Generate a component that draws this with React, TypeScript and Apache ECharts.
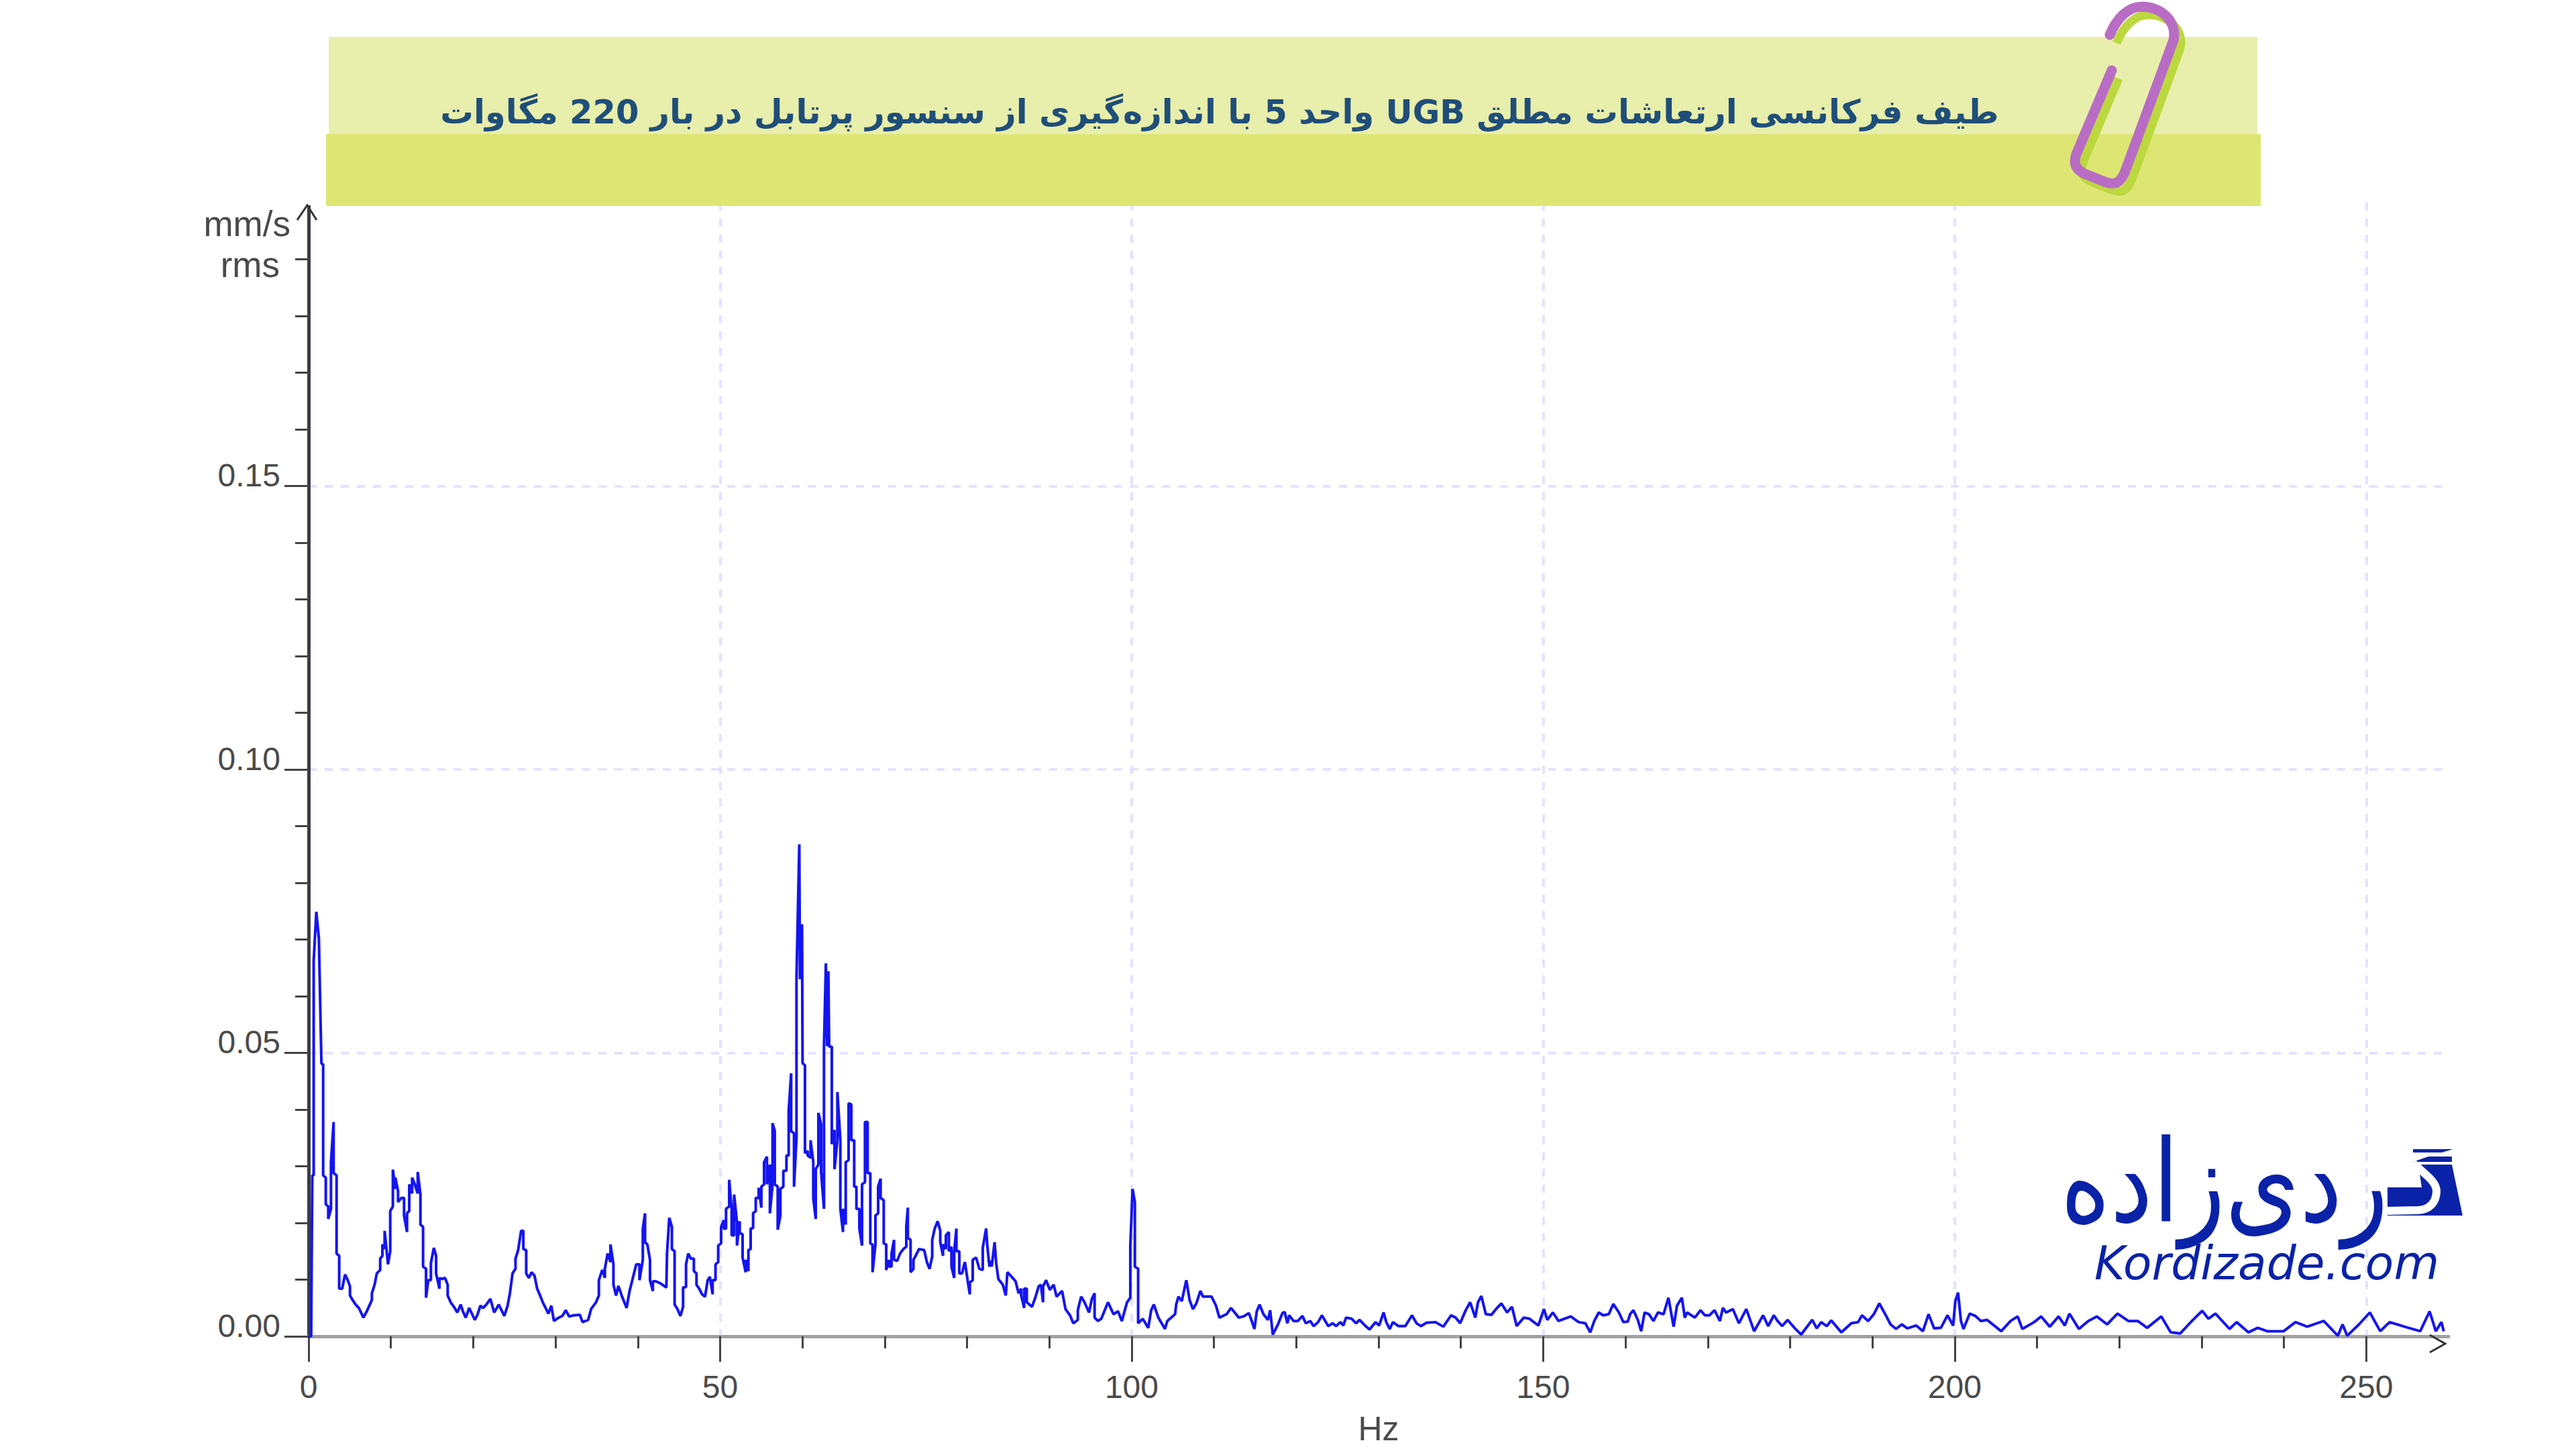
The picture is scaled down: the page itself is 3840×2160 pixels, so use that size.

import React, { useEffect, useRef } from "react";
import * as echarts from "echarts";

const title = "\u202Bطیف فرکانسی ارتعاشات مطلق UGB واحد 5 با اندازه‌گیری از سنسور پرتابل در بار 220 مگاوات\u202C";
const xTicks = [0, 50, 100, 150, 200, 250];
const yTicks = [0, 0.05, 0.1, 0.15];

// [Hz, mm/s rms]
const band0to40 = [
[0,0],[0.31,0],[0.45,.0284],[0.62,.0284],[0.62,.0662],[0.94,.0749],[1.25,.0702],[1.56,.0481],[1.77,.048],[1.77,.0284],
[2.09,.028],[2.09,.0233],[2.39,.0229],[2.39,.0207],[2.72,.0225],[2.72,.0307],[3.04,.0378],[3.04,.0288],[3.4,.0284],[3.4,.0146],
[3.72,.0142],[3.72,.0084],[4.08,.0084],[4.43,.0109],[4.76,.0099],[5.03,.0088],[5.03,.0072],[5.35,.0064],[5.71,.0056],[6.11,.005],
[6.66,.0033],[7.07,.0044],[7.69,.0064],[7.69,.0076],[8.02,.0091],[8.29,.0111],[8.7,.0117],[8.7,.0137],[8.97,.0142],[8.97,.0162],
[9.24,.0154],[9.24,.0186],[9.65,.0127],[9.92,.015],[9.92,.0221],[10.24,.0229],[10.24,.0294],[10.54,.026],[10.54,.028],[10.87,.0256],
[10.87,.0237],[11.28,.0244],[11.6,.0244],[11.6,.0213],[11.96,.0184],[11.96,.0217],[12.23,.0221],[12.23,.0268],[12.58,.0252],[12.58,.028],
[12.91,.0268],[13.26,.0252],[13.26,.029],[13.59,.025],[13.59,.0197],[13.91,.0193],[13.91,.0123],[14.27,.0119],[14.27,.0068],[14.54,.0099],
[14.86,.0099],[14.86,.0129],[15.22,.0156],[15.49,.0142],[15.49,.0111],[15.9,.0084],[15.9,.0103],[16.22,.0101],[16.58,.0103],[16.9,.0091],
[16.9,.0072],[17.26,.006],[17.66,.0052],[18.07,.0042],[18.48,.0056],[18.75,.0044],[19.1,.0033],[19.51,.005],[19.84,.004],[20.19,.0029],
[20.52,.0038],[20.87,.0054],[21.2,.005],[21.6,.0056],[22.09,.0066],[22.55,.0042],[23.1,.0056],[23.78,.0036],[24.18,.0054],[24.46,.0076],
[24.78,.0111],[25.14,.0119],[25.14,.0137],[25.46,.0152],[25.82,.0186],[26.09,.0186],[26.09,.0154],[26.44,.0152],[26.44,.0111],[26.77,.0103],
[27.09,.0113],[27.45,.0107],[27.77,.0084],[28.13,.0072],[28.45,.006],[28.8,.005],[29.13,.004],[29.48,.0054],[29.81,.0027],[30.16,.0031],
[30.84,.0036],[31.25,.0046],[31.66,.0035],[32.2,.0037],[32.96,.0038],[33.29,.0025],[33.97,.0029],[34.32,.0048],[34.92,.006],[35.27,.0072],
[35.27,.0099],[35.68,.0117],[36,.0103],[36,.0119],[36.33,.0146],[36.68,.0131],[36.68,.0162],[37.04,.0127],[37.04,.0091],[37.36,.0072],
[37.64,.0089],[38.04,.0072],[38.64,.005],[39,.008],[39.4,.0103],[39.81,.0127],[40.2,.0127],[40.2,.0099],
];

const band40to81 = [
[40.61,.0135],[40.61,.019],[40.88,.0217],[40.88,.0166],[41.16,.0162],[41.48,.0135],[41.48,.0099],[41.83,.008],[41.83,.0097],[42.19,.0097],
[42.79,.0093],[43.47,.0086],[43.55,.0146],[43.82,.0209],[44.14,.0193],[44.14,.0154],[44.47,.015],[44.47,.0056],[44.82,.0048],[45.18,.0036],
[45.5,.0052],[45.5,.0086],[45.86,.0087],[45.86,.0127],[46.13,.0146],[46.45,.0137],[46.81,.0137],[46.81,.0115],[47.13,.0111],[47.13,.0091],
[47.46,.0084],[47.81,.0074],[48.17,.007],[48.49,.0099],[48.76,.0105],[49.09,.0074],[49.09,.0099],[49.44,.0099],[49.44,.0127],[49.77,.0131],
[49.77,.016],[50.12,.0164],[50.12,.0193],[50.45,.0205],[50.45,.019],[50.72,.019],[50.72,.0225],[51.1,.0229],[51.1,.0276],[51.4,.0225],
[51.4,.0178],[51.7,.0178],[51.7,.025],[52.05,.0201],[52.05,.016],[52.38,.0203],[52.38,.0182],[52.73,.018],[52.73,.0139],[53.11,.0113],
[53.11,.0135],[53.44,.0115],[53.44,.0152],[53.71,.0154],[53.71,.019],[54.01,.0191],[54.01,.0217],[54.33,.0221],[54.33,.0244],[54.69,.0244],
[54.69,.0262],[55.01,.0227],[55.01,.0264],[55.34,.0268],[55.34,.0307],[55.69,.0317],[55.69,.0268],[56.05,.0303],[56.05,.0217],[56.37,.0268],
[56.37,.0376],[56.64,.0362],[56.64,.0268],[57,.0264],[57,.0188],[57.32,.0213],[57.32,.026],[57.68,.0264],[57.68,.0292],[58.06,.0292],
[58.06,.0319],[58.33,.0319],[58.33,.0398],[58.63,.0464],[58.63,.0362],[58.98,.0358],[58.98,.0264],[59.28,.035],[59.28,.0633],[59.62,.0868],
[59.7,.063],[59.95,.0727],[60.02,.0482],[60.31,.0478],[60.31,.0323],[60.64,.0327],[60.64,.0319],[60.99,.0315],[60.99,.0346],[61.32,.0307],
[61.32,.0244],[61.62,.0207],[61.62,.0295],[61.94,.0303],[61.94,.0394],[62.27,.0374],[62.27,.029],[62.62,.0225],[62.62,.0511],[62.85,.0658],
[63,.0512],[63.15,.0644],[63.25,.0511],[63.57,.0511],[63.57,.0339],[63.9,.0364],[63.9,.0295],[64.25,.0346],[64.25,.0431],[64.61,.0346],
[64.61,.0225],[64.93,.0184],[64.93,.0225],[65.26,.0197],[65.26,.0307],[65.61,.0311],[65.61,.0411],[65.94,.0409],[65.94,.0346],[66.29,.0346],
[66.29,.0264],[66.56,.0264],[66.56,.0225],[66.92,.0225],[66.92,.019],[67.24,.016],[67.24,.0268],[67.6,.0272],[67.6,.0378],[67.92,.0378],
[67.92,.0288],[68.25,.0288],[68.25,.0164],[68.52,.0162],[68.52,.0113],[68.87,.0162],[68.87,.0213],[69.2,.0217],[69.2,.0264],[69.5,.0278],
[69.5,.0244],[69.88,.024],[69.88,.0164],[70.18,.0162],[70.18,.0117],[70.5,.0135],[70.5,.0123],[70.83,.0123],[70.83,.0146],[71.13,.017],
[71.13,.0135],[71.51,.0133],[71.86,.0146],[72.27,.0154],[72.62,.0158],[72.62,.0193],[72.81,.0227],[72.81,.0174],[73.14,.017],[73.14,.0113],
[73.49,.0119],[73.49,.0135],[73.76,.0142],[74.17,.0154],[74.8,.0152],[75.12,.0131],[75.45,.0119],[75.77,.0141],[75.77,.017],[76.07,.019],
[76.43,.0203],[76.75,.0186],[76.75,.0166],[77.08,.0142],[77.08,.0162],[77.43,.0154],[77.43,.0178],[77.79,.0184],[77.79,.015],[78.11,.0158],
[78.11,.0123],[78.44,.0103],[78.44,.015],[78.71,.019],[78.71,.015],[79.06,.015],[79.06,.0111],[79.39,.0111],[79.74,.0131],[80.07,.0099],
[80.34,.0074],[80.34,.0095],[80.69,.0099],[80.69,.0135],[81.1,.0139],
];

const band81to120 = [
[81.5,.0119],[81.91,.0117],[81.91,.0156],[82.32,.019],[82.45,.0162],[82.72,.0123],[83,.0133],[83,.0123],[83.35,.0166],[83.54,.0129],
[83.81,.0101],[84.35,.0091],[84.71,.0072],[84.9,.0113],[85.3,.0107],[85.9,.0097],[86.26,.0076],[86.58,.0084],[86.58,.0072],[86.94,.005],
[86.94,.0084],[87.26,.0084],[87.26,.006],[87.89,.0052],[88.29,.0068],[88.7,.0088],[88.97,.0091],[89.24,.006],[89.24,.0088],[89.6,.0099],
[90.06,.0082],[90.52,.0091],[90.88,.007],[91.55,.008],[91.96,.0048],[92.51,.0037],[92.91,.0023],[93.46,.0029],[93.46,.0046],[93.86,.007],
[94.27,.006],[94.82,.0042],[95.17,.0066],[95.5,.0076],[95.5,.0033],[95.9,.0027],[96.31,.0031],[97.13,.006],[97.8,.0039],[98.35,.0044],
[98.81,.0027],[99.44,.006],[99.84,.0068],[99.84,.016],[100.11,.026],[100.39,.0237],[100.39,.0123],[100.79,.0119],[100.79,.0023],[101.34,.0031],
[102.02,.0015],[102.37,.0046],[102.7,.0056],[103.24,.0033],[104.05,.0013],[104.33,.0027],[105.28,.0039],[105.41,.0056],[105.69,.007],[106.09,.0062],
[106.64,.0099],[107.04,.0064],[107.45,.0048],[107.86,.0058],[108.35,.008],[108.67,.007],[109.71,.007],[110.25,.0054],[110.66,.0033],[111.53,.0039],
[112.07,.005],[113.02,.0033],[113.57,.0035],[114.25,.0041],[114.92,.0013],[115.2,.0044],[115.55,.0056],[116.01,.0039],[116.56,.0029],[116.83,.0046],
[117.15,.0003],[117.78,.0021],[118.32,.0041],[118.59,.0043],[118.92,.0023],[119.14,.0037],[119.68,.0027],
];

const band120to160 = [
[120.2,.0027],[120.75,.0036],[121.16,.0023],[121.7,.0027],[122.11,.0018],[122.65,.0025],[123.12,.0037],[123.88,.0018],[124.42,.0023],[124.83,.0018],
[125.37,.0025],[125.72,.0019],[126.05,.0033],[126.73,.0031],[127.27,.0023],[127.68,.0029],[128.36,.0019],[128.9,.0012],[129.64,.0025],[130.07,.0019],
[130.61,.0042],[130.94,.0025],[131.35,.0013],[131.75,.0025],[132.43,.0018],[133.25,.0018],[134.06,.0037],[134.61,.0023],[135.15,.0018],[135.83,.0024],
[136.92,.0025],[137.87,.0017],[138.82,.0037],[139.36,.0033],[139.91,.0023],[140.59,.0046],[141.13,.006],[141.75,.0033],[142.08,.006],[142.49,.0071],
[143.03,.0039],[143.71,.0038],[144.39,.005],[144.93,.0058],[145.61,.0042],[146.21,.0052],[146.78,.0018],[147.65,.0033],[148.33,.0031],[149.42,.0019],
[150.09,.0048],[150.5,.0029],[151.18,.0042],[151.86,.0027],[153.35,.0035],[154.31,.0025],[155.12,.0023],[155.72,.0007],[156.21,.0027],[156.75,.0042],
[157.3,.0037],[157.97,.0039],[158.52,.0057],[159.2,.0042],[159.74,.0025],[160.28,.0026],[160.56,.0039],
];

const band160to201 = [
[160.96,.0046],[161.5,.0029],[161.91,.0009],[162.32,.0042],[162.86,.0039],[163.4,.0027],[163.95,.0042],[164.63,.0039],[165.22,.0068],[165.85,.0017],
[166.26,.0054],[166.85,.0068],[167.21,.0033],[167.48,.0042],[168.43,.0033],[169.11,.0046],[169.65,.0037],[170.2,.0037],[170.82,.0046],[171.47,.0027],
[171.83,.005],[172.23,.0042],[173.05,.0048],[173.78,.0023],[174.68,.0048],[175.63,.0009],[176.72,.0037],[177.34,.0018],[178.02,.0037],[178.48,.0027],
[179.03,.0018],[179.7,.0029],[180.52,.0015],[181.34,.0003],[182.69,.0029],[183.24,.0014],[183.78,.0025],[184.46,.0018],[185,.0028],[186.23,.0007],
[187.45,.0023],[188.26,.0025],[188.73,.0037],[189.49,.0027],[190.17,.0039],[190.84,.0058],[191.52,.004],[192.2,.0021],[192.88,.0013],[193.56,.0021],
[194.24,.0014],[195.33,.0019],[196.14,.0009],[196.82,.0039],[197.5,.0014],[198.32,.0015],[199.13,.0037],[199.81,.0019],[200.08,.0062],[200.41,.0077],
[200.76,.0027],[201.07,.0013],
];

const band201to260 = [
[201.82,.004],[202.5,.0036],[203.19,.0027],[203.93,.0029],[205.65,.0009],[206.79,.0027],[207.65,.0035],[208.22,.0013],[209.65,.0025],[210.51,.0035],
[211.54,.0017],[212.63,.0035],[213.37,.0019],[213.94,.004],[215.09,.0013],[216.23,.0027],[217.26,.0035],[218.52,.0021],[219.78,.004],[221.09,.0027],
[222.24,.0027],[223.38,.0015],[225.1,.0035],[226.24,.0007],[227.39,.0005],[228.82,.0027],[230.07,.0045],[230.82,.0031],[231.68,.004],[233.39,.0013],
[234.25,.0025],[235.68,.0007],[236.82,.0015],[237.97,.0009],[239.97,.0009],[241.4,.0025],[242.83,.0017],[244.83,.0027],[246.55,.0001],[247.12,.0021],
[247.69,.0001],[249.12,.0021],[250.44,.0042],[251.7,.0009],[252.84,.0025],[255.13,.0015],[256.56,.0009],[257.7,.0044],[258.45,.0009],[259.13,.0025],[259.42,.0009],
];

const spectrum = [...band0to40, ...band40to81, ...band81to120, ...band120to160, ...band160to201, ...band201to260];

echarts.graphic.registerShape("paperclip", echarts.graphic.extendPath(
  "M3145 52 C3155 28 3172 10 3192 10 C3222 10 3246 32 3240 60 L3168 255 C3160 276 3150 276 3135 270 L3110 260 C3095 254 3090 245 3095 230 L3148 105", {}));
echarts.graphic.registerShape("logocurve", echarts.graphic.extendPath(
  "M3597 1734 C3615 1750 3632 1762 3632 1775 C3632 1792 3622 1803 3605 1804 L3559 1805", {}));

const LOGO_BLUE = "#0a22a8";
const AXIS_TEXT = "#4a4a4a";

export default function App() {
  const ref = useRef<HTMLDivElement>(null);
  useEffect(() => {
    const chart = echarts.init(ref.current!, undefined, { renderer: "svg" });
    chart.setOption({
      animation: false,
      backgroundColor: "#ffffff",
      grid: { left: 460, top: 302, width: 3190, height: 1699, containLabel: false },
      xAxis: {
        type: "value", min: 0, max: 260, interval: 50,
        name: "Hz", nameLocation: "middle", nameGap: 113,
        nameTextStyle: { fontFamily: "Liberation Sans", fontSize: 50, color: AXIS_TEXT },
        axisLine: { show: true, onZero: false, lineStyle: { color: "#a0a0a0", width: 5 } },
        axisTick: { show: true, customValues: xTicks, length: 38, lineStyle: { color: "#444444", width: 3 } },
        minorTick: { show: true, splitNumber: 5, length: 18, lineStyle: { color: "#444444", width: 3 } },
        axisLabel: { customValues: xTicks, margin: 51, fontFamily: "Liberation Sans", fontSize: 48, color: AXIS_TEXT, hideOverlap: false },
        splitLine: { show: true, showMinLine: false, showMaxLine: true, lineStyle: { color: "#e2e2ff", width: 4, type: [12, 12] } },
        minorSplitLine: { show: false },
      },
      yAxis: {
        type: "value", min: 0, max: 0.2, interval: 0.05,
        axisLine: { show: true, onZero: false, lineStyle: { color: "#3c3c44", width: 5 } },
        axisTick: { show: true, customValues: yTicks, length: 36, lineStyle: { color: "#444444", width: 3 } },
        minorTick: { show: true, splitNumber: 5, length: 20, lineStyle: { color: "#444444", width: 3 } },
        axisLabel: {
          customValues: yTicks, margin: 42, fontFamily: "Liberation Sans", fontSize: 48, color: AXIS_TEXT,
          verticalAlign: "bottom", lineHeight: 32, formatter: (v: number) => v.toFixed(2),
        },
        splitLine: { show: true, showMinLine: false, showMaxLine: true, lineStyle: { color: "#e2e2ff", width: 4, type: [12, 12] } },
        minorSplitLine: { show: false },
      },
      series: [{
        type: "line", data: spectrum, showSymbol: false, symbol: "none", smooth: false, clip: false,
        lineStyle: { color: "#1414f0", width: 4 }, z: 5, silent: true,
      }],
      graphic: [
        { type: "rect", z: 1, shape: { x: 450, y: 292, width: 20, height: 14 }, style: { fill: "#ffffff" } },
        { type: "rect", z: 1, shape: { x: 3646, y: 1996, width: 10, height: 12 }, style: { fill: "#ffffff" } },
        { type: "rect", z: 2, shape: { x: 490, y: 55, width: 2875, height: 146 }, style: { fill: "#e8eeab" } },
        { type: "rect", z: 2, shape: { x: 486, y: 200, width: 2884, height: 107 }, style: { fill: "#dde673" } },
        { type: "paperclip", z: 3, x: 10, y: 12, style: { fill: "none", stroke: "#bcd83f", lineWidth: 13 } },
        { type: "paperclip", z: 4, style: { fill: "none", stroke: "#b96cc4", lineWidth: 15, lineCap: "round" } },
        { type: "text", z: 6, x: 1818, y: 167, style: { text: title, font: "bold 49.5px 'DejaVu Sans'", fill: "#1f4e79", textAlign: "center", textVerticalAlign: "middle" } },
        { type: "text", z: 6, x: 433, y: 333, style: { text: "mm/s", font: "53px 'Liberation Sans'", fill: AXIS_TEXT, textAlign: "right", textVerticalAlign: "middle" } },
        { type: "text", z: 6, x: 417, y: 394, style: { text: "rms", font: "53px 'Liberation Sans'", fill: AXIS_TEXT, textAlign: "right", textVerticalAlign: "middle" } },
        { type: "polyline", z: 6, shape: { points: [[443, 328], [458, 306], [472, 328]] }, style: { fill: "none", stroke: "#333333", lineWidth: 3 } },
        { type: "polyline", z: 6, shape: { points: [[3622, 1990], [3645, 2003], [3622, 2016]] }, style: { fill: "none", stroke: "#333333", lineWidth: 3 } },
        { type: "text", z: 6, x: 3560, y: 1762, scaleY: 1.2, style: { text: "ردی‌زاده", font: "142px 'DejaVu Sans'", fill: LOGO_BLUE, textAlign: "right", textVerticalAlign: "middle" } },
        { type: "text", z: 6, x: 3122, y: 1882, style: { text: "Kordizade.com", font: "italic 69.5px 'DejaVu Sans'", fill: LOGO_BLUE, textAlign: "left", textVerticalAlign: "middle" } },
        { type: "polygon", z: 6, shape: { points: [[3597, 1713], [3657, 1713], [3640, 1718], [3597, 1718]] }, style: { fill: LOGO_BLUE } },
        { type: "polygon", z: 6, shape: { points: [[3597, 1732], [3620, 1724], [3655, 1724], [3655, 1732]] }, style: { fill: LOGO_BLUE } },
        { type: "polygon", z: 6, shape: { points: [[3605, 1736], [3655, 1736], [3671, 1812], [3559, 1812], [3559, 1770], [3610, 1770]] }, style: { fill: LOGO_BLUE } },
        { type: "logocurve", z: 7, style: { fill: "none", stroke: "#ffffff", lineWidth: 12 } },
      ],
    });
    return () => chart.dispose();
  }, []);
  return <div ref={ref} style={{ position: "fixed", left: 0, top: 0, width: 3840, height: 2160 }} />;
}
